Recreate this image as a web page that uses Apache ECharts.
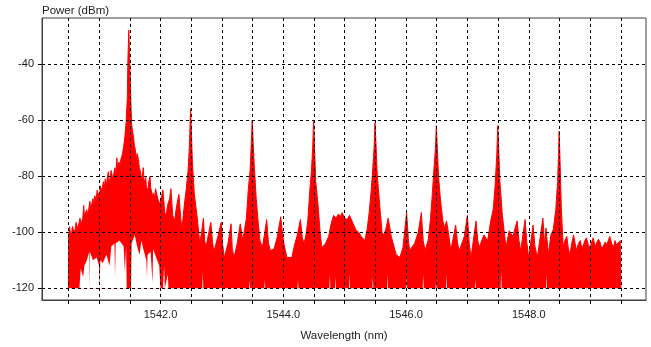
<!DOCTYPE html>
<html>
<head>
<meta charset="utf-8">
<script src="https://cdn.jsdelivr.net/npm/echarts@6/dist/echarts.min.js"></script>
<style>
  html, body { margin: 0; padding: 0; background: #fff; }
  #spectrum-chart { width: 651px; height: 347px; }
</style>
</head>
<body>
<div id="spectrum-chart"></div>
<script>
// upper edge of the measured trace, [wavelength nm, power dBm]
var upperTrace = [
  [1540.50,-120],[1540.505,-101],[1540.52,-98],[1540.53,-100],[1540.55,-101],[1540.565,-98],[1540.58,-97.5],[1540.595,-100],
  [1540.61,-99],[1540.625,-96.5],[1540.64,-96],[1540.655,-99],[1540.67,-97],[1540.69,-95],[1540.705,-98],[1540.72,-96],
  [1540.735,-95],[1540.75,-90.5],[1540.76,-94],[1540.78,-93.5],[1540.80,-92],[1540.815,-94],[1540.83,-92],[1540.85,-89],
  [1540.865,-92],[1540.88,-90],[1540.90,-88],[1540.915,-90.5],[1540.93,-87],[1540.95,-88.5],[1540.97,-85],[1540.98,-88],
  [1540.99,-86],[1541.005,-87.5],[1541.02,-83.5],[1541.04,-85],[1541.055,-84],[1541.07,-82],[1541.085,-84.5],[1541.10,-81],
  [1541.12,-83],[1541.135,-80.5],[1541.15,-78.5],[1541.165,-82],[1541.18,-81],[1541.195,-78],[1541.21,-79.5],[1541.225,-81],
  [1541.24,-79],[1541.26,-77],[1541.275,-79],[1541.29,-73.5],[1541.30,-77],[1541.31,-77.5],[1541.325,-75],[1541.34,-76.5],
  [1541.355,-74],[1541.37,-73],[1541.385,-71.5],[1541.40,-69.5],[1541.42,-66],[1541.44,-61],[1541.46,-52],[1541.47,-38],
  [1541.485,-28],[1541.495,-36],[1541.51,-47],[1541.52,-55],[1541.53,-61.5],[1541.545,-64],[1541.56,-66],[1541.575,-69],
  [1541.59,-70.5],[1541.605,-74],[1541.62,-72],[1541.64,-74],[1541.655,-77],[1541.67,-78],[1541.685,-80],[1541.70,-81],
  [1541.72,-77],[1541.73,-81],[1541.74,-82],[1541.76,-80.5],[1541.77,-84],[1541.78,-83.5],[1541.795,-85],[1541.81,-82],
  [1541.83,-80],[1541.84,-84],[1541.85,-85],[1541.87,-87],[1541.89,-86],[1541.905,-88],[1541.92,-84.5],[1541.94,-85],
  [1541.955,-88],[1541.97,-89],[1541.99,-90],[1542.01,-88],[1542.04,-85],[1542.07,-93],[1542.09,-94],[1542.12,-90],
  [1542.15,-88],[1542.17,-84.5],[1542.20,-94],[1542.23,-96],[1542.26,-91],[1542.30,-86.5],[1542.33,-95],[1542.35,-99],
  [1542.38,-92],[1542.42,-84.5],[1542.45,-78],[1542.47,-70],[1542.49,-56],[1542.50,-62],[1542.52,-75],[1542.55,-86],
  [1542.60,-95],[1542.64,-104],[1542.67,-100],[1542.70,-95],[1542.72,-103],[1542.74,-105.5],[1542.78,-101],[1542.82,-96.5],
  [1542.85,-104],[1542.87,-107],[1542.93,-102],[1542.99,-96.5],[1543.01,-104],[1543.04,-109],[1543.10,-104],[1543.15,-97],
  [1543.17,-106],[1543.20,-109],[1543.25,-104],[1543.30,-97],[1543.34,-103],[1543.37,-99],[1543.40,-95],[1543.43,-85],
  [1543.46,-78],[1543.48,-68],[1543.495,-60],[1543.51,-68],[1543.53,-77],[1543.56,-88],[1543.59,-96],[1543.62,-103],
  [1543.66,-105.5],[1543.70,-100],[1543.73,-95.5],[1543.76,-104],[1543.79,-106.5],[1543.85,-106],[1543.90,-102],[1543.96,-94.5],
  [1543.99,-101],[1544.01,-104],[1544.06,-109],[1544.14,-109],[1544.19,-104],[1544.23,-101],[1544.28,-95.5],[1544.31,-102],
  [1544.34,-104],[1544.37,-101],[1544.40,-96],[1544.43,-86],[1544.46,-78],[1544.48,-70],[1544.495,-60],[1544.51,-70],
  [1544.53,-82],[1544.57,-91],[1544.60,-100],[1544.63,-105.5],[1544.69,-104],[1544.74,-101.5],[1544.78,-97],[1544.82,-94],
  [1544.86,-95],[1544.90,-93.5],[1544.93,-94.5],[1544.96,-93],[1545.00,-95],[1545.04,-95.5],[1545.08,-94],[1545.12,-96],
  [1545.14,-97],[1545.19,-99.5],[1545.23,-100],[1545.27,-101.5],[1545.33,-103],[1545.37,-98.5],[1545.40,-93],[1545.43,-86],
  [1545.46,-77],[1545.48,-70],[1545.495,-61],[1545.51,-68],[1545.53,-79],[1545.57,-90],[1545.61,-100],[1545.64,-101],
  [1545.67,-99],[1545.71,-95],[1545.76,-101.5],[1545.84,-108],[1545.90,-109],[1545.95,-105.5],[1546.01,-93],[1546.04,-103],
  [1546.06,-106.5],[1546.14,-104],[1546.20,-100],[1546.25,-93],[1546.28,-103],[1546.31,-106.5],[1546.36,-103],[1546.40,-95],
  [1546.43,-86],[1546.46,-76],[1546.48,-70],[1546.495,-62],[1546.51,-70],[1546.53,-80],[1546.56,-88],[1546.60,-96],
  [1546.63,-98.5],[1546.66,-96],[1546.69,-100],[1546.73,-106.5],[1546.81,-97.5],[1546.84,-104],[1546.87,-106.5],[1546.95,-101.5],
  [1547.00,-94],[1547.03,-104],[1547.06,-109],[1547.14,-96],[1547.17,-103],[1547.19,-105.5],[1547.27,-101],[1547.33,-103],
  [1547.38,-96],[1547.42,-92],[1547.45,-84],[1547.48,-72],[1547.495,-62],[1547.51,-70],[1547.53,-82],[1547.57,-94],
  [1547.63,-105.5],[1547.68,-99.5],[1547.74,-101.5],[1547.81,-96],[1547.84,-103],[1547.87,-106.5],[1547.94,-95.5],[1547.97,-104],
  [1548.00,-109],[1548.07,-97.5],[1548.10,-105],[1548.14,-109],[1548.23,-95],[1548.26,-105],[1548.28,-98.5],[1548.32,-108],
  [1548.36,-101],[1548.40,-99],[1548.44,-92],[1548.47,-82],[1548.485,-72],[1548.495,-64],[1548.51,-75],[1548.53,-91],
  [1548.56,-105],[1548.59,-103],[1548.62,-101.5],[1548.645,-106],[1548.67,-108],[1548.70,-104],[1548.73,-101],[1548.755,-104],
  [1548.78,-106.5],[1548.81,-104],[1548.84,-103],[1548.865,-106],[1548.89,-105.5],[1548.915,-103],[1548.94,-102],[1548.97,-104.5],
  [1549.00,-105.5],[1549.025,-103.5],[1549.05,-102],[1549.08,-105],[1549.11,-104.5],[1549.135,-102.5],[1549.16,-103.5],[1549.19,-106],
  [1549.22,-105.5],[1549.245,-103.5],[1549.27,-104.5],[1549.295,-104],[1549.32,-101.5],[1549.35,-104],[1549.38,-105.5],[1549.405,-103],
  [1549.43,-104.5],[1549.46,-104],[1549.49,-103],[1549.50,-120]
];

// lower edge of the trace where it leaves empty space above the -120 floor
var gapTrace = [
  [1540.50,-120],[1540.68,-120],[1540.70,-113],[1540.74,-116],[1540.76,-112],[1540.80,-110],[1540.84,-107],[1540.845,-120],
  [1540.85,-107],[1540.90,-110],[1540.96,-109],[1541.00,-112],[1541.01,-120],[1541.02,-110],[1541.06,-111],[1541.12,-108],
  [1541.17,-112],[1541.20,-105],[1541.25,-104],[1541.26,-116],[1541.27,-104],[1541.33,-103],[1541.40,-105],[1541.42,-114],
  [1541.44,-105],[1541.45,-120],[1541.52,-120],[1541.53,-104],[1541.58,-101],[1541.63,-106],[1541.66,-108],[1541.69,-103],
  [1541.72,-106],[1541.77,-110],[1541.78,-116],[1541.79,-108],[1541.84,-107],[1541.87,-118],[1541.88,-106],[1541.93,-109],
  [1541.98,-112],[1542.00,-120],[1542.04,-120],[1542.06,-112],[1542.07,-120],[1542.12,-115],[1542.13,-120],
  [1542.682,-120],[1542.69,-114],[1542.698,-120],[1543.442,-120],[1543.45,-117],[1543.458,-120],
  [1543.692,-120],[1543.70,-117],[1543.708,-120],[1544.232,-120],[1544.24,-117],[1544.248,-120],
  [1544.752,-120],[1544.76,-115],[1544.768,-120],[1544.842,-120],[1544.85,-116],[1544.858,-120],
  [1545.072,-120],[1545.08,-115],[1545.088,-120],[1545.452,-120],[1545.46,-116],[1545.468,-120],
  [1545.692,-120],[1545.70,-115],[1545.708,-120],[1546.002,-120],[1546.01,-116],[1546.018,-120],
  [1546.272,-120],[1546.28,-115],[1546.288,-120],[1546.482,-120],[1546.49,-117],[1546.498,-120],
  [1546.652,-120],[1546.66,-115],[1546.668,-120],[1547.122,-120],[1547.13,-117],[1547.138,-120],
  [1547.542,-120],[1547.55,-114],[1547.558,-120],[1548.282,-120],[1548.29,-115],[1548.298,-120],[1549.50,-120]
];

var xTicks = [1540.5,1541.0,1541.5,1542.0,1542.5,1543.0,1543.5,1544.0,1544.5,1545.0,1545.5,1546.0,1546.5,1547.0,1547.5,1548.0,1548.5,1549.0,1549.5];
var xLabels = [1542.0,1544.0,1546.0,1548.0];
var yTicks = [-120,-100,-80,-60,-40];

var myEcharts = echarts.init(document.getElementById('spectrum-chart'));
var gridDash = { color: '#000', type: [3, 3], width: 1 };
var labelFont = { color: '#222', fontFamily: 'Liberation Sans', fontSize: 11 };

myEcharts.setOption({
  animation: false,
  backgroundColor: '#fff',
  grid: {
    left: 42, right: 5, top: 18, bottom: 40,
    show: true, borderColor: '#404040', borderWidth: 1
  },
  xAxis: {
    type: 'value',
    min: 1540.07, max: 1549.91,
    splitNumber: 20, minInterval: 0.5, maxInterval: 0.5,
    z: 10,
    name: 'Wavelength (nm)',
    nameLocation: 'middle',
    nameGap: 30,
    nameTextStyle: { color: '#222', fontFamily: 'Liberation Sans', fontSize: 11.5 },
    axisLine: { show: true, lineStyle: { color: '#404040' } },
    axisTick: { show: true, length: 4, customValues: xTicks, lineStyle: { color: '#000' } },
    axisLabel: Object.assign({
      margin: 9,
      customValues: xLabels,
      formatter: function (v) { return v.toFixed(1); }
    }, labelFont),
    splitLine: { show: true, lineStyle: gridDash }
  },
  yAxis: {
    type: 'value',
    min: -124.17, max: -23.65,
    splitNumber: 5, minInterval: 20, maxInterval: 20,
    z: 10,
    name: 'Power (dBm)',
    nameLocation: 'end',
    nameGap: 7,
    nameTextStyle: { color: '#222', fontFamily: 'Liberation Sans', fontSize: 11.5, align: 'left', verticalAlign: 'middle' },
    axisLine: { show: true, lineStyle: { color: '#404040' } },
    axisTick: { show: true, length: 4, customValues: yTicks, lineStyle: { color: '#000' } },
    axisLabel: Object.assign({
      margin: 8,
      customValues: yTicks
    }, labelFont),
    splitLine: { show: true, lineStyle: gridDash }
  },
  series: [
    {
      type: 'line',
      data: upperTrace,
      showSymbol: false,
      sampling: null,
      lineStyle: { color: '#ff0000', width: 1 },
      areaStyle: { color: '#ff0000', opacity: 1, origin: -120 },
      z: 2
    },
    {
      type: 'line',
      data: gapTrace,
      showSymbol: false,
      lineStyle: { width: 0, color: '#fff' },
      areaStyle: { color: '#fff', opacity: 1, origin: -120 },
      z: 3
    }
  ]
});
</script>
</body>
</html>
